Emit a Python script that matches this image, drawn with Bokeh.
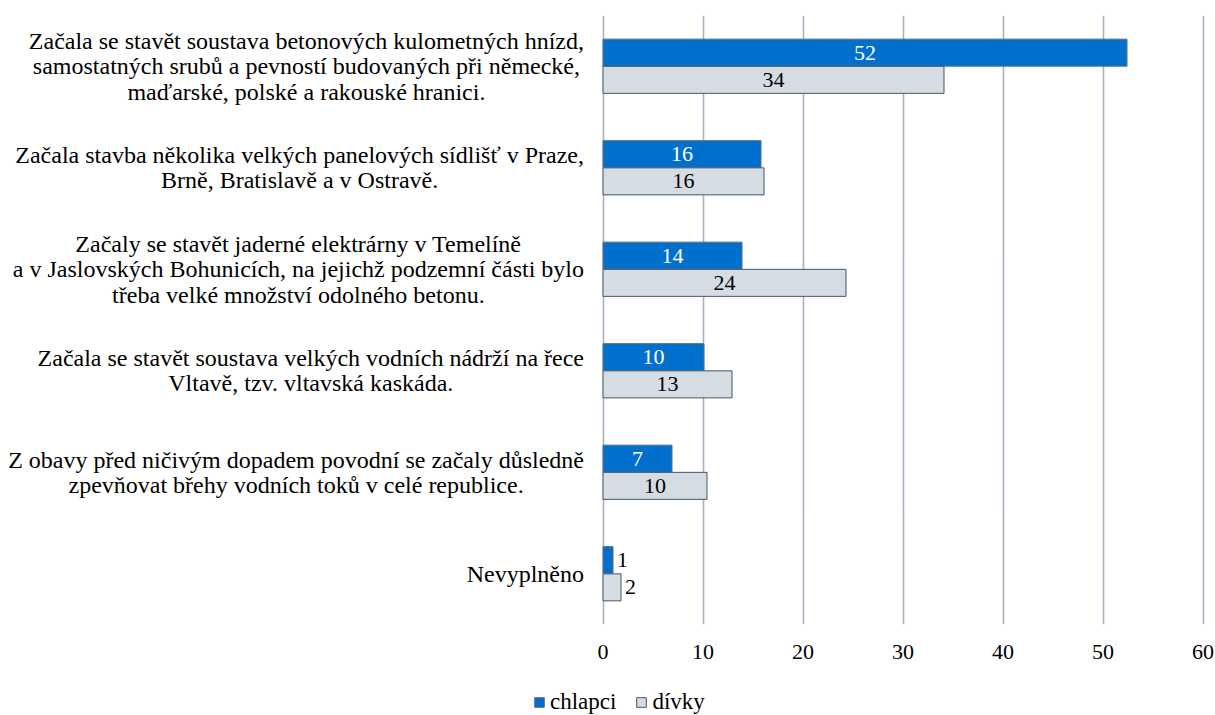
from bokeh.plotting import figure
from bokeh.layouts import column
from bokeh.models import ColumnDataSource, FactorRange, Range1d, FixedTicker, Legend, LegendItem
from bokeh.transform import dodge
from bokeh.core.properties import value
from bokeh.embed import file_html
from bokeh.resources import INLINE

categories = [
    "Začala se stavět soustava betonových kulometných hnízd,\nsamostatných srubů a pevností budovaných při německé,\nmaďarské, polské a rakouské hranici.",
    "Začala stavba několika velkých panelových sídlišť v Praze,\nBrně, Bratislavě a v Ostravě.",
    "Začaly se stavět jaderné elektrárny v Temelíně\na v Jaslovských Bohunicích, na jejichž podzemní části bylo\ntřeba velké množství odolného betonu.",
    "Začala se stavět soustava velkých vodních nádrží na řece\nVltavě, tzv. vltavská kaskáda.",
    "Z obavy před ničivým dopadem povodní se začaly důsledně\nzpevňovat břehy vodních toků v celé republice.",
    "Nevyplněno",
]
chlapci = [52.4, 15.8, 13.9, 10.1, 6.9, 1.0]
divky = [34.1, 16.1, 24.3, 12.9, 10.4, 1.8]
x_ticks = [0, 10, 20, 30, 40, 50, 60]
series_names = ["chlapci", "dívky"]

FONT = "Liberation Serif"
BLUE = "#0070CC"
GRAY = "#D6DCE4"
BLUE_EDGE = "#5A6B84"
GRAY_EDGE = "#44546A"

src = ColumnDataSource(dict(cat=categories, chlapci=chlapci, divky=divky))

p = figure(width=1215, height=666,
           x_range=Range1d(-60.25, 60.95),
           y_range=FactorRange(factors=categories[::-1]),
           output_backend="svg", toolbar_location=None,
           min_border_left=0, min_border_right=3, min_border_top=15, min_border_bottom=42,
           y_axis_location=None, outline_line_color=None)

off = 0.134
hh = 0.266
p.hbar(y=dodge('cat', off, range=p.y_range), left=0, right='chlapci', height=hh,
       source=src, fill_color=BLUE, line_color=BLUE_EDGE, line_width=1)
p.hbar(y=dodge('cat', -off, range=p.y_range), left=0, right='divky', height=hh,
       source=src, fill_color=GRAY, line_color=GRAY_EDGE, line_width=1)

# value labels
thr = 3
def lab_sources(vals):
    inside = dict(cat=[], x=[], t=[])
    outside = dict(cat=[], x=[], t=[])
    for c, v in zip(categories, vals):
        d = inside if v >= thr else outside
        d["cat"].append(c)
        d["x"].append(v / 2 if v >= thr else v)
        d["t"].append(str(int(round(v))))
    return ColumnDataSource(inside), ColumnDataSource(outside)

for vals, o, col in [(chlapci, off, "white"), (divky, -off, "black")]:
    s_in, s_out = lab_sources(vals)
    p.text(x='x', y=dodge('cat', o, range=p.y_range), text='t', source=s_in,
           text_font=value(FONT), text_font_size="22px", text_color=col,
           text_align="center", text_baseline="middle")
    p.text(x='x', y=dodge('cat', o, range=p.y_range), text='t', source=s_out,
           text_font=value(FONT), text_font_size="22px", text_color="black",
           text_align="left", text_baseline="middle", x_offset=4)

# category labels
csrc = ColumnDataSource(dict(cat=categories, x=[0] * len(categories)))
p.text(x='x', y='cat', text='cat', source=csrc, x_offset=-19,
       anchor=value("center_right"), text_align="center", text_baseline="middle",
       text_font=value(FONT), text_font_size="24px", text_color="black",
       text_line_height=0.98)

ax = p.xaxis[0]
ax.ticker = FixedTicker(ticks=x_ticks)
ax.axis_line_color = None
ax.major_tick_line_color = None
ax.minor_tick_line_color = None
ax.major_label_text_font = FONT
ax.major_label_text_font_size = "22px"
ax.major_label_text_color = "black"
ax.major_label_standoff = 14

p.xgrid.ticker = FixedTicker(ticks=x_ticks)
p.xgrid.grid_line_color = "#A7B1C3"
p.xgrid.grid_line_width = 1.6
p.ygrid.grid_line_color = None

# legend strip below the chart (proxy glyphs lie outside the strip's visible range)
lg = figure(width=1215, height=49, x_range=Range1d(0, 1), y_range=Range1d(0, 1),
            output_backend="svg", toolbar_location=None,
            min_border_left=0, min_border_right=0, min_border_top=0, min_border_bottom=0,
            x_axis_location=None, y_axis_location=None, outline_line_color=None)
lg.xgrid.visible = False
lg.ygrid.visible = False
proxy = ColumnDataSource(dict(y=[-10], left=[-10], right=[-9]))
d1 = lg.hbar(y='y', left='left', right='right', height=0.5, source=proxy,
             fill_color=BLUE, line_color=BLUE_EDGE)
d2 = lg.hbar(y='y', left='left', right='right', height=0.5, source=proxy,
             fill_color=GRAY, line_color=GRAY_EDGE)
legend = Legend(items=[LegendItem(label=series_names[0], renderers=[d1]),
                       LegendItem(label=series_names[1], renderers=[d2])],
                orientation="horizontal", location=(533, 0),
                label_text_font=FONT, label_text_font_size="23px", label_text_color="black",
                glyph_width=12, glyph_height=12, label_standoff=5, spacing=19,
                padding=0, margin=0, border_line_color=None, background_fill_alpha=0)
lg.add_layout(legend)

open("out.html", "w").write(file_html(column(p, lg), INLINE))
